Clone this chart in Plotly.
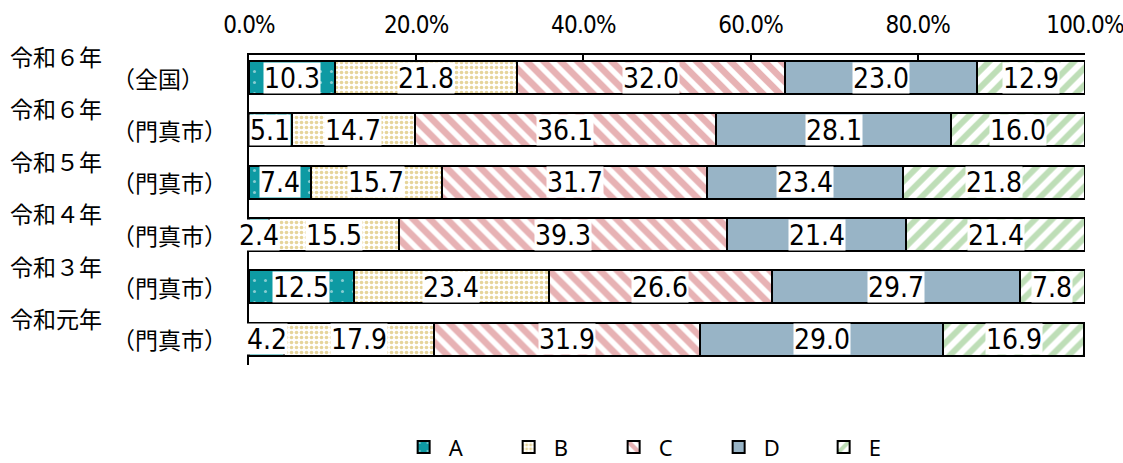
import plotly.graph_objects as go
import numpy as np

years = ["令和６年", "令和６年", "令和５年", "令和４年", "令和３年", "令和元年"]
regions = ["（全国）", "（門真市）", "（門真市）", "（門真市）", "（門真市）", "（門真市）"]
series_names = ["A", "B", "C", "D", "E"]
A = [10.3, 5.1, 7.4, 2.4, 12.5, 4.2]
B = [21.8, 14.7, 15.7, 15.5, 23.4, 17.9]
C = [32.0, 36.1, 31.7, 39.3, 26.6, 31.9]
D = [23.0, 28.1, 23.4, 21.4, 29.7, 29.0]
E = [12.9, 16.0, 21.8, 21.4, 7.8, 16.9]
tick_vals = [0, 20, 40, 60, 80, 100]
tick_text = ["0.0%", "20.0%", "40.0%", "60.0%", "80.0%", "100.0%"]

values = [A, B, C, D, E]
styles = [
    dict(color="#0e9aa3", pattern=dict(shape=".", fgcolor="#ffffff", bgcolor="#0e9aa3", size=11, solidity=0.06, fillmode="overlay")),
    dict(color="#ffffff", pattern=dict(shape=".", fgcolor="#cdac38", bgcolor="#ffffff", size=5, solidity=0.42, fillmode="overlay")),
    dict(color="#ffffff", pattern=dict(shape="\\", fgcolor="#d0656a", bgcolor="#ffffff", size=12, solidity=0.55, fillmode="overlay")),
    dict(color="#98b4c6"),
    dict(color="#ffffff", pattern=dict(shape="/", fgcolor="#7dbd70", bgcolor="#ffffff", size=12, solidity=0.5, fillmode="overlay")),
]

ypos = list(range(len(years)))
NARROW = "DejaVu Sans Condensed, DejaVu Sans, sans-serif"
CJK = "Noto Sans CJK JP, sans-serif"


def cond(s, ls=0):
    return f'<span style="font-stretch:condensed;letter-spacing:{ls}px">{s}</span>'


fig = go.Figure()
for name, vals, st in zip(series_names, values, styles):
    marker = dict(st)
    marker["line"] = dict(color="black", width=2)
    fig.add_trace(go.Bar(
        x=vals, y=ypos, name=name, orientation="h", width=0.63,
        marker=marker, hoverinfo="skip",
    ))

# value labels with white background
cum = np.zeros(len(years))
annotations = []
for vals in values:
    arr = np.array(vals)
    centers = cum + arr / 2
    for yi, (c, v) in enumerate(zip(centers, arr)):
        annotations.append(dict(
            x=c, y=yi, xref="x", yref="y", text=cond(f"{v:.1f}"), showarrow=False,
            font=dict(family=NARROW, size=28, color="black"),
            bgcolor="white", borderpad=0, height=30, xanchor="center", yanchor="middle",
        ))
    cum = cum + arr

# category labels (two lines)
for yi, (yr, rg) in enumerate(zip(years, regions)):
    annotations.append(dict(
        x=-0.288, y=yi - 0.41, xref="paper", yref="y", text=yr, showarrow=False,
        xanchor="left", yanchor="middle", font=dict(family=CJK, size=23, color="black"),
    ))
    annotations.append(dict(
        x=-0.166, y=yi, xref="paper", yref="y", text=rg, showarrow=False,
        xanchor="left", yanchor="middle", font=dict(family=CJK, size=23, color="black"),
    ))

fig.update_layout(
    barmode="stack",
    width=1123, height=463,
    margin=dict(l=249, r=38, t=55, b=98, autoexpand=False),
    paper_bgcolor="white", plot_bgcolor="white",
    annotations=annotations,
    showlegend=True,
    legend=dict(
        orientation="h", x=0.493, xanchor="center", y=-0.265, yanchor="middle",
        font=dict(family="Noto Sans, sans-serif", size=22, color="black"),
        itemwidth=40, entrywidth=50, entrywidthmode="pixels", traceorder="normal",
    ),
    xaxis=dict(
        side="top", range=[0, 100], tickvals=tick_vals,
        ticktext=[cond(t, -0.8) for t in tick_text],
        showline=True, linecolor="black", linewidth=2,
        ticks="inside", ticklen=6, tickwidth=2, tickcolor="black",
        showgrid=False, zeroline=False,
        tickfont=dict(family=NARROW, size=24, color="black"),
        ticklabelstandoff=10, ticklabeloverflow="allow",
    ),
    yaxis=dict(
        range=[5.49, -0.43], showline=True, linecolor="black", linewidth=2,
        showticklabels=False, ticks="", showgrid=False, zeroline=False,
    ),
)

fig.write_html(
    "out.html",
    config={"displayModeBar": False, "staticPlot": True},
    post_script="document.body.style.margin='0';document.body.style.overflow='hidden';",
)
